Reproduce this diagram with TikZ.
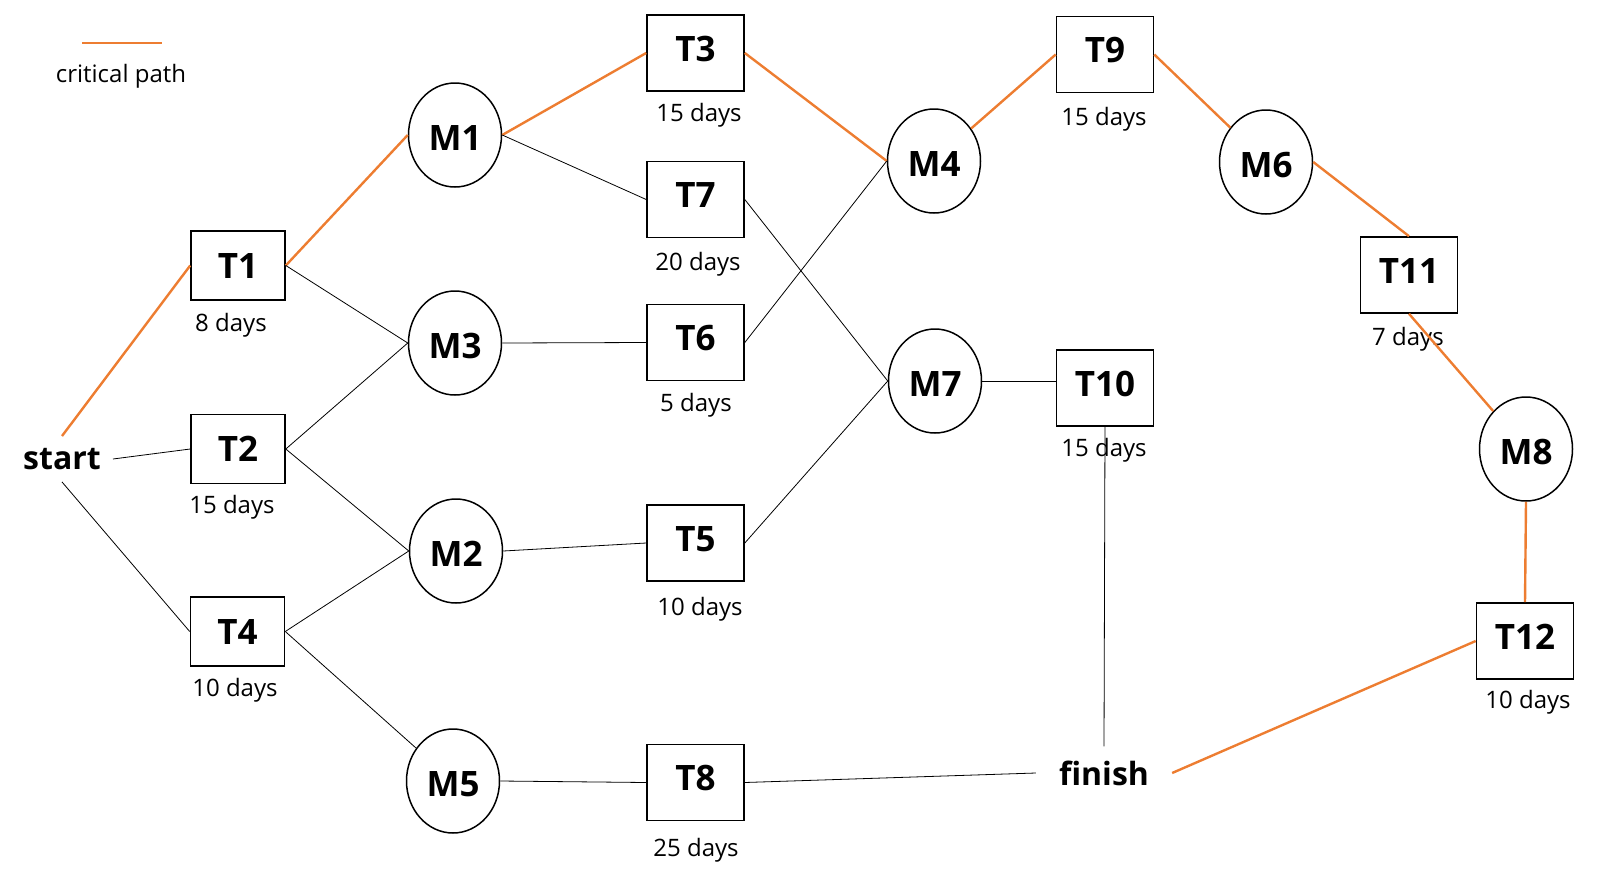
\documentclass[tikz,border=0pt]{standalone}
\usepackage{fontspec}
\setmainfont{Open Sans}
\usetikzlibrary{shapes.geometric}
\definecolor{critical}{HTML}{ED7D31}
\begin{document}
\begin{tikzpicture}[x=1pt,y=-1pt,
  task/.style={draw,line width=1.6pt,minimum width=97pt,minimum height=76pt,inner sep=0pt,text height=25pt,text depth=9pt,font=\fontsize{35}{40}\selectfont\bfseries},
  small task/.style={task,minimum width=94pt,minimum height=69pt,text depth=0pt},
  mile/.style={draw,ellipse,line width=1.5pt,minimum width=93pt,minimum height=104pt,inner sep=0pt,text height=30pt,text depth=0pt,font=\fontsize{35}{40}\selectfont\bfseries},
  dur/.style={font=\fontsize{24}{28}\selectfont,inner sep=0pt,yshift=-2pt},
  ends/.style={font=\fontsize{32}{36}\selectfont\bfseries,inner sep=12pt},
  link/.style={line width=0.8pt},
  crit/.style={critical,line width=2.4pt}]
\useasboundingbox (0,0) rectangle (1607,873);
% legend
\coordinate (leg1) at (82,43);
\coordinate (leg2) at (162,43);
\draw[crit] (leg1) -- (leg2);
\node[dur] (legtext) at (121,74) {critical path};
% start and finish
\node[ends] (start) at (62,459) {start};
\node[ends,inner xsep=23pt,inner ysep=14pt] (finish) at (1104,773) {finish};
% tasks
\node[small task] (T1) at (238,265.5) {T1};
\node[small task] (T2) at (238,449) {T2};
\node[small task] (T4) at (237.5,631.5) {T4};
\node[task] (T3) at (695.5,53) {T3};
\node[task] (T7) at (695.5,199.5) {T7};
\node[task] (T6) at (695.5,342.5) {T6};
\node[task] (T5) at (695.5,543) {T5};
\node[task] (T8) at (695.5,782.5) {T8};
\node[task] (T9) at (1105,54.5) {T9};
\node[task] (T10) at (1105,388) {T10};
\node[task] (T11) at (1409,275) {T11};
\node[task] (T12) at (1525,641) {T12};
% durations
\node[dur] (d1) at (231,323) {8 days};
\node[dur] (d2) at (232,505) {15 days};
\node[dur] (d4) at (235,688) {10 days};
\node[dur] (d3) at (699,113) {15 days};
\node[dur] (d7) at (698,262) {20 days};
\node[dur] (d6) at (696,403) {5 days};
\node[dur] (d5) at (700,607) {10 days};
\node[dur] (d8) at (696,848) {25 days};
\node[dur] (d9) at (1104,117) {15 days};
\node[dur] (d10) at (1104,448) {15 days};
\node[dur] (d11) at (1408,337) {7 days};
\node[dur] (d12) at (1528,700) {10 days};
% milestones
\node[mile] (M1) at (455,135) {M1};
\node[mile] (M3) at (455,343) {M3};
\node[mile] (M2) at (456,551) {M2};
\node[mile] (M5) at (453,781) {M5};
\node[mile] (M4) at (934,161) {M4};
\node[mile] (M7) at (935,381) {M7};
\node[mile] (M6) at (1266,162) {M6};
\node[mile] (M8) at (1526,449) {M8};
% connectors
\draw[crit] (start.north) -- (T1.west);
\draw[link] (start.east) -- (T2.west);
\draw[link] (start.south) -- (T4.west);
\draw[crit] (T1.east) -- (M1.west);
\draw[link] (T1.east) -- (M3.west);
\draw[link] (T2.east) -- (M3.west);
\draw[link] (T2.east) -- (M2.west);
\draw[link] (T4.east) -- (M2.west);
\draw[link] (T4.east) -- (M5);
\draw[crit] (M1.east) -- (T3.west);
\draw[link] (M1.east) -- (T7.west);
\draw[link] (M3.east) -- (T6.west);
\draw[link] (M2.east) -- (T5.west);
\draw[link] (M5.east) -- (T8.west);
\draw[crit] (T3.east) -- (M4.west);
\draw[link] (T6.east) -- (M4.west);
\draw[link] (T7.east) -- (M7.west);
\draw[link] (T5.east) -- (M7.west);
\draw[crit] (M4) -- (T9.west);
\draw[link] (M7.east) -- (T10.west |- M7.east);
\draw[link] (T10.south) -- (finish.north);
\draw[link] (T8.east) -- (finish.west);
\draw[crit] (T9.east) -- (M6);
\draw[crit] (M6.east) -- (T11.north);
\draw[crit] (T11.south) -- (M8);
\draw[crit] (M8.south) -- (T12.north);
\draw[crit] (T12.west) -- (finish.east);
\end{tikzpicture}
\end{document}
